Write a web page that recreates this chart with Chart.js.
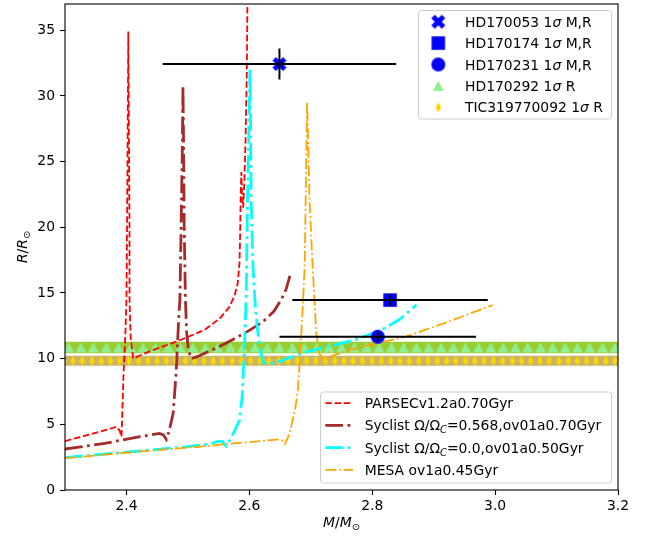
<!DOCTYPE html>
<html>
<head>
<meta charset="utf-8">
<script src="https://cdn.jsdelivr.net/npm/chart.js@4.4.1/dist/chart.umd.min.js"></script>
<style>
  html, body { margin: 0; padding: 0; background: #fff; }
  canvas { display: block; }
</style>
</head>
<body>
<canvas id="mr-chart" width="649" height="536"></canvas>
<script>
// Mass-radius plane: isochrone tracks against the measured cluster stars.

const xTicks = [2.4, 2.6, 2.8, 3.0, 3.2];
const yTicks = [0, 5, 10, 15, 20, 25, 30, 35];

// stars with mass and radius (1 sigma)
const starNames = ['HD170053', 'HD170174', 'HD170231'];
const starM = [2.649, 2.829, 2.809];
const starMErr = [0.19, 0.159, 0.16];
const starR = [32.43, 14.46, 11.67];
const starRErr = [1.18, 0.45, 0.38];

// stars with radius only, shown as horizontal bands
const bandNames = ['HD170292', 'TIC319770092'];
const bandR = [10.85, 9.84];
const bandRErr = [0.44, 0.39];
const bandEdgeM = [2.3, 3.2];
const triangleM = [2.306, 2.326, 2.346, 2.367, 2.387, 2.407, 2.427, 2.447, 2.468, 2.488,
  2.508, 2.528, 2.548, 2.569, 2.589, 2.609, 2.629, 2.649, 2.670, 2.690,
  2.710, 2.730, 2.750, 2.771, 2.791, 2.811, 2.831, 2.851, 2.872, 2.892,
  2.912, 2.932, 2.952, 2.973, 2.993, 3.013, 3.033, 3.053, 3.074, 3.094,
  3.114, 3.134, 3.154, 3.175, 3.195];
const diamondM = [2.298, 2.313, 2.328, 2.344, 2.359, 2.374, 2.389, 2.404, 2.420, 2.435,
  2.450, 2.465, 2.480, 2.496, 2.511, 2.526, 2.541, 2.556, 2.572, 2.587,
  2.602, 2.617, 2.632, 2.648, 2.663, 2.678, 2.693, 2.708, 2.724, 2.739,
  2.754, 2.769, 2.784, 2.800, 2.815, 2.830, 2.845, 2.860, 2.876, 2.891,
  2.906, 2.921, 2.936, 2.952, 2.967, 2.982, 2.997, 3.012, 3.028, 3.043,
  3.058, 3.073, 3.088, 3.104, 3.119, 3.134, 3.149, 3.164, 3.180, 3.195, 3.210];

// PARSEC v1.2, 0.70 Gyr
const parsecM = [2.300, 2.330, 2.360, 2.384, 2.389, 2.392, 2.393, 2.395, 2.398, 2.400,
  2.401, 2.402, 2.403, 2.404, 2.405, 2.405, 2.407, 2.411, 2.440, 2.481,
  2.527, 2.552, 2.567, 2.576, 2.581, 2.584, 2.585, 2.586, 2.587, 2.588,
  2.590, 2.592, 2.594, 2.596, 2.597];
const parsecR = [3.72, 4.10, 4.48, 4.82, 4.50, 4.06, 5.50, 8.50, 11.5, 14.5,
  20.0, 27.0, 34.9, 27.0, 20.0, 14.5, 11.5, 10.02, 10.6, 11.29,
  12.18, 13.07, 13.9, 14.8, 15.7, 17.3, 19.5, 22.5, 24.2, 22.5,
  21.5, 23.5, 27.0, 32.0, 38.0];

// Syclist, Omega/Omega_c = 0.568, 0.70 Gyr
const syRotM = [2.300, 2.365, 2.420, 2.454, 2.460, 2.465, 2.467, 2.471, 2.476, 2.481,
  2.485, 2.487, 2.489, 2.491, 2.492, 2.493, 2.494, 2.496, 2.498, 2.501,
  2.506, 2.515, 2.546, 2.579, 2.600, 2.622, 2.640, 2.652, 2.660, 2.666];
const syRotR = [3.12, 3.55, 4.05, 4.31, 4.20, 3.85, 4.10, 4.80, 5.84, 9.0,
  13.0, 14.5, 20.0, 26.0, 30.8, 26.0, 20.0, 14.5, 12.0, 10.6,
  10.0, 10.15, 10.8, 11.6, 12.15, 12.8, 13.6, 14.5, 15.3, 16.3];

// Syclist, non-rotating, 0.50 Gyr
const syNoRotM = [2.300, 2.400, 2.500, 2.535, 2.548, 2.556, 2.562, 2.567, 2.575, 2.584,
  2.588, 2.590, 2.593, 2.595, 2.597, 2.599, 2.601, 2.602, 2.603, 2.606,
  2.609, 2.613, 2.617, 2.622, 2.628, 2.644, 2.682, 2.725, 2.770, 2.812,
  2.845, 2.872];
const syNoRotR = [2.47, 2.88, 3.30, 3.50, 3.68, 3.72, 3.35, 3.70, 4.40, 5.30,
  7.00, 8.60, 12.0, 15.0, 22.0, 27.0, 32.0, 28.0, 22.0, 17.0,
  14.5, 12.3, 10.9, 9.76, 9.60, 9.70, 10.35, 10.90, 11.40, 12.10,
  13.00, 14.10];

// MESA ov1, 0.45 Gyr
const mesaM = [2.300, 2.400, 2.519, 2.600, 2.640, 2.649, 2.654, 2.658, 2.663, 2.668,
  2.675, 2.679, 2.683, 2.687, 2.690, 2.692, 2.694, 2.696, 2.698, 2.703,
  2.709, 2.714, 2.720, 2.740, 2.763, 2.800, 2.855, 2.920, 2.996];
const mesaR = [2.42, 2.84, 3.31, 3.65, 3.82, 3.86, 3.75, 3.50, 4.00, 4.80,
  6.30, 7.60, 10.5, 14.0, 17.0, 23.0, 29.5, 26.0, 22.1, 17.0,
  11.9, 10.4, 9.9, 10.3, 10.65, 11.10, 11.67, 12.75, 14.08];

const TXT = 13.9;
const pts = (xs, ys) => xs.map((x, i) => ({ x, y: ys[i] }));

// marker glyphs drawn once on small canvases (matplotlib-like shapes)
function marker(shape, w, h, fill) {
  const c = document.createElement('canvas');
  c.width = Math.ceil(w + 4); c.height = Math.ceil(h + 4);
  const g = c.getContext('2d');
  g.translate(c.width / 2, c.height / 2);
  g.fillStyle = fill;
  g.beginPath();
  if (shape === 'X') {
    const p = [[-1, -2], [0, -1], [1, -2], [2, -1], [1, 0], [2, 1], [1, 2], [0, 1], [-1, 2], [-2, 1], [-1, 0], [-2, -1]];
    p.forEach(([a, b], i) => g[i ? 'lineTo' : 'moveTo'](a * w / 4, b * h / 4));
  } else if (shape === 's') {
    g.rect(-w / 2, -h / 2, w, h);
  } else if (shape === 'o') {
    g.arc(0, 0, w / 2, 0, Math.PI * 2);
  } else if (shape === '^') {
    g.moveTo(0, -h / 2); g.lineTo(w / 2, h / 2); g.lineTo(-w / 2, h / 2);
  } else if (shape === 'd') {
    g.moveTo(0, -h / 2); g.lineTo(w / 2, 0); g.lineTo(0, h / 2); g.lineTo(-w / 2, 0);
  }
  g.closePath();
  g.fill();
  return c;
}

const starIcons = [marker('X', 14, 14, '#0000ff'), marker('s', 13.5, 13.5, '#0000ff'), marker('o', 14, 14, '#0000ff')];
const triIcon = marker('^', 11, 10, '#90ee90');
const diaIcon = marker('d', 5.5, 10, '#ffd700');

const sigmaLabel = (name, what) => [[name + ' 1', ''], ['\u03c3', 'i'], [' ' + what, '']];

const datasets = [
  // radius bands
  { data: pts(bandEdgeM, bandEdgeM.map(() => bandR[0] + bandRErr[0])), showLine: true,
    fill: { value: bandR[0] - bandRErr[0] }, backgroundColor: '#9acd32',
    borderColor: 'transparent', borderWidth: 0, pointRadius: 0, order: 11 },
  { data: pts(bandEdgeM, bandEdgeM.map(() => bandR[1] + bandRErr[1])), showLine: true,
    fill: { value: bandR[1] - bandRErr[1] }, backgroundColor: '#c8b464',
    borderColor: 'transparent', borderWidth: 0, pointRadius: 0, order: 11 },
  { data: triangleM.map(m => ({ x: m, y: bandR[0] })), pointStyle: triIcon, pointRadius: 6,
    clip: 0, order: 10, legendGroup: 'stars', legendRow: 3, legendIcon: triIcon,
    legendSegs: sigmaLabel(bandNames[0], 'R') },
  { data: diamondM.map(m => ({ x: m, y: bandR[1] })), pointStyle: diaIcon, pointRadius: 6,
    clip: 0, order: 9, legendGroup: 'stars', legendRow: 4, legendIcon: diaIcon,
    legendSegs: sigmaLabel(bandNames[1], 'R') },
  // isochrones
  { data: pts(parsecM, parsecR), showLine: true, borderColor: '#ff0000', borderWidth: 1.8,
    borderDash: [6.5, 2.8], pointRadius: 0, clip: 0, order: 8,
    legendGroup: 'tracks', legendRow: 0, legendSegs: [['PARSECv1.2a0.70Gyr', '']] },
  { data: pts(syRotM, syRotR), showLine: true, borderColor: '#a52a2a', borderWidth: 2.8,
    borderDash: [17.8, 4.4, 2.8, 4.4], pointRadius: 0, clip: 0, order: 7,
    legendGroup: 'tracks', legendRow: 1,
    legendSegs: [['Syclist \u03a9/\u03a9', ''], ['C', 'is'], ['=0.568,ov01a0.70Gyr', '']] },
  { data: pts(syNoRotM, syNoRotR), showLine: true, borderColor: '#00ffff', borderWidth: 2.8,
    borderDash: [17.8, 4.4, 2.8, 4.4], pointRadius: 0, clip: 0, order: 6,
    legendGroup: 'tracks', legendRow: 2,
    legendSegs: [['Syclist \u03a9/\u03a9', ''], ['C', 'is'], ['=0.0,ov01a0.50Gyr', '']] },
  { data: pts(mesaM, mesaR), showLine: true, borderColor: '#ffa500', borderWidth: 1.8,
    borderDash: [11.1, 2.8, 1.8, 2.8], pointRadius: 0, clip: 0, order: 5,
    legendGroup: 'tracks', legendRow: 3, legendSegs: [['MESA ov1a0.45Gyr', '']] }
];

starNames.forEach((name, i) => {
  datasets.push({ data: [{ x: starM[i], y: starR[i] }], pointStyle: starIcons[i], pointRadius: 7,
    order: 1, legendGroup: 'stars', legendRow: i, legendIcon: starIcons[i],
    legendSegs: sigmaLabel(name, 'M,R') });
});

// mixed upright / italic / subscript text, like mathtext
function segStyle(f) {
  const sub = f.includes('s');
  return { size: sub ? TXT * 0.7 : TXT, italic: f.includes('i'), drop: sub ? TXT * 0.22 : 0 };
}
function setFont(ctx, s) {
  ctx.font = (s.italic ? 'italic ' : '') + s.size + 'px "DejaVu Sans", sans-serif';
}
function richWidth(ctx, segs) {
  return segs.reduce((w, [t, f]) => { setFont(ctx, segStyle(f)); return w + ctx.measureText(t).width; }, 0);
}
function drawRich(ctx, segs, x, y, center) {
  let cx = center ? x - richWidth(ctx, segs) / 2 : x;
  ctx.textAlign = 'left';
  ctx.textBaseline = 'alphabetic';
  ctx.fillStyle = '#000';
  segs.forEach(([t, f]) => {
    const s = segStyle(f);
    setFont(ctx, s);
    ctx.fillText(t, cx, y + s.drop);
    cx += ctx.measureText(t).width;
  });
}

function legendBox(ctx, x, y, w, h) {
  const r = 3;
  ctx.beginPath();
  ctx.moveTo(x + r, y);
  ctx.arcTo(x + w, y, x + w, y + h, r);
  ctx.arcTo(x + w, y + h, x, y + h, r);
  ctx.arcTo(x, y + h, x, y, r);
  ctx.arcTo(x, y, x + w, y, r);
  ctx.closePath();
  ctx.fillStyle = 'rgba(255,255,255,0.8)';
  ctx.fill();
  ctx.strokeStyle = '#cccccc';
  ctx.lineWidth = 1;
  ctx.stroke();
}

const legends = {
  stars: { x: 418.5, y: 10.5, w: 193, h: 108.5, iconX: 438.3, textX: 465, row0: 21.7, step: 21.4 },
  tracks: { x: 320.5, y: 392, w: 291, h: 91, lineX: [325.3, 353], textX: 364.7, row0: 403.2, step: 22.2 }
};

const decorations = {
  id: 'decorations',
  afterDatasetsDraw(chart) {
    const { ctx, scales: { x, y } } = chart;
    ctx.save();
    ctx.strokeStyle = '#000';
    ctx.lineWidth = 2;
    starM.forEach((m, i) => {
      const px = x.getPixelForValue(m), py = y.getPixelForValue(starR[i]);
      ctx.beginPath();
      ctx.moveTo(x.getPixelForValue(m - starMErr[i]), py);
      ctx.lineTo(x.getPixelForValue(m + starMErr[i]), py);
      ctx.moveTo(px, y.getPixelForValue(starR[i] - starRErr[i]));
      ctx.lineTo(px, y.getPixelForValue(starR[i] + starRErr[i]));
      ctx.stroke();
    });
    ctx.restore();
  },
  afterDraw(chart) {
    const { ctx, chartArea: a } = chart;
    ctx.save();
    // axes frame
    ctx.strokeStyle = '#000';
    ctx.lineWidth = 1.1;
    ctx.strokeRect(a.left, a.top, a.right - a.left, a.bottom - a.top);

    // axis titles
    drawRich(ctx, [['M', 'i'], ['/', ''], ['M', 'i'], ['\u2299', 's']], (a.left + a.right) / 2, 527, true);
    ctx.save();
    ctx.translate(27, (a.top + a.bottom) / 2);
    ctx.rotate(-Math.PI / 2);
    drawRich(ctx, [['R', 'i'], ['/', ''], ['R', 'i'], ['\u2299', 's']], 0, 0, true);
    ctx.restore();

    // legends
    Object.entries(legends).forEach(([group, L]) => {
      legendBox(ctx, L.x, L.y, L.w, L.h);
      chart.data.datasets.filter(d => d.legendGroup === group).forEach(d => {
        const ry = L.row0 + d.legendRow * L.step;
        if (d.legendIcon) {
          const img = d.legendIcon;
          ctx.drawImage(img, L.iconX - img.width / 2, ry - img.height / 2);
        } else {
          ctx.save();
          ctx.strokeStyle = d.borderColor;
          ctx.lineWidth = d.borderWidth;
          ctx.setLineDash(d.borderDash);
          ctx.beginPath();
          ctx.moveTo(L.lineX[0], ry);
          ctx.lineTo(L.lineX[1], ry);
          ctx.stroke();
          ctx.restore();
        }
        drawRich(ctx, d.legendSegs, L.textX, ry + 5, false);
      });
    });
    ctx.restore();
  }
};

const tickFont = { family: 'DejaVu Sans', size: TXT };
const tickGrid = { drawOnChartArea: false, drawTicks: true, tickLength: 5, tickColor: '#000', tickWidth: 1.1, color: '#000' };

new Chart(document.getElementById('mr-chart'), {
  type: 'scatter',
  data: { datasets },
  options: {
    responsive: false,
    animation: false,
    devicePixelRatio: 1,
    events: [],
    layout: { autoPadding: false, padding: { top: 4, right: 31, bottom: 0, left: 0 } },
    plugins: { legend: { display: false }, tooltip: { enabled: false } },
    scales: {
      x: {
        type: 'linear', min: 2.3, max: 3.2,
        afterBuildTicks: s => { s.ticks = xTicks.map(v => ({ value: v })); },
        afterFit: s => { s.height = 46; s.paddingLeft = 0; s.paddingRight = 0; },
        grid: tickGrid,
        border: { display: false },
        ticks: { font: tickFont, color: '#000', padding: 3, autoSkip: false, maxRotation: 0,
          callback: v => v.toFixed(1) }
      },
      y: {
        type: 'linear', min: 0, max: 37,
        afterBuildTicks: s => { s.ticks = yTicks.map(v => ({ value: v })); },
        afterFit: s => { s.width = 65; s.paddingTop = 0; s.paddingBottom = 0; },
        grid: tickGrid,
        border: { display: false },
        ticks: { font: tickFont, color: '#000', padding: 5, autoSkip: false,
          callback: v => String(v) }
      }
    }
  },
  plugins: [decorations]
});
</script>
</body>
</html>
